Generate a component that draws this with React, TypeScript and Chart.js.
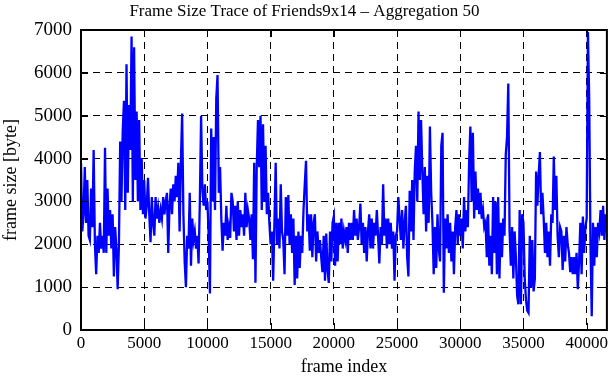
import React, { useEffect, useRef } from "react";
import { Chart, registerables } from "chart.js";

Chart.register(...registerables);

const TITLE = "Frame Size Trace of Friends9x14 \u2013 Aggregation 50";
const X_TITLE = "frame index";
const Y_TITLE = "frame size [byte]";
const FRAME_STEP = 100;
const X_MAX = 41600;
const Y_MAX = 7000;
const X_TICKS = [0, 5000, 10000, 15000, 20000, 25000, 30000, 35000, 40000];
const Y_TICKS = [0, 1000, 2000, 3000, 4000, 5000, 6000, 7000];

// aggregated frame sizes (bytes), one value every 100 frames
const frameSize: number[] = [
  3900, 2300, 2700, 3800, 2500, 3500, 2200, 2100, 3300, 2400,
  4200, 2000, 1300, 2200, 1800, 2500, 1900, 2200, 1800, 4250,
  1800, 3300, 2200, 2800, 1900, 2700, 1250, 2400, 1900, 950,
  2000, 4400, 3000, 4650, 5350, 2800, 6200, 3200, 5250, 4200,
  6850, 3000, 6600, 3500, 5100, 3000, 4900, 2800, 4000, 2700,
  3500, 2600, 2900, 3550, 2700, 2050, 3100, 2500, 2200, 3100,
  2600, 2850, 2500, 2800, 2600, 3100, 2700, 3000, 3200, 1800,
  2900, 3300, 2700, 3400, 3000, 3600, 3100, 3900, 2300, 3900,
  5050, 2700, 1600, 1000, 2200, 1900, 3200, 1500, 2600, 2100,
  2300, 1900, 2200, 1550, 3000, 5000, 3300, 2900, 3400, 2800,
  3000, 2200, 850, 4700, 3000, 4500, 2800, 5400, 5950, 3200,
  3800, 2600, 1850, 2500, 2200, 2900, 2100, 2400, 2150, 3200,
  3000, 2300, 2900, 2100, 3000, 2200, 2800, 2400, 2700, 2200,
  3200, 2400, 2800, 2600, 2100, 2700, 1650, 3900, 1100, 3800,
  4900, 3800, 5000, 2800, 4800, 3000, 4300, 2700, 3200, 2500,
  2000, 2300, 1150, 2500, 3900, 2000, 2600, 1900, 3400, 2300,
  2100, 1300, 3100, 2200, 3150, 2000, 2700, 1800, 2600, 1050,
  2200, 1200, 2300, 1450, 2200, 1800, 2800, 3400, 3950, 2300,
  2700, 1850, 2700, 1700, 2500, 2700, 1600, 2300, 1800, 2100,
  1700, 1350, 2200, 1150, 2250, 1400, 1100, 2300, 1600, 2500,
  2650, 1500, 2500, 1600, 2500, 2000, 2600, 1900, 2300, 2100,
  2400, 1800, 2500, 2100, 2500, 2100, 2800, 2200, 2600, 2100,
  2400, 2950, 2000, 2500, 1800, 2400, 1600, 2300, 2700, 1900,
  2600, 1900, 2500, 2200, 2800, 2200, 1550, 2400, 2000, 3400,
  2200, 2600, 1900, 2600, 2000, 2500, 1900, 2300, 1150, 2200,
  2300, 3100, 2600, 2100, 2800, 1900, 2500, 2900, 1700, 1250,
  3250, 2300, 3500, 2100, 3700, 4300, 3000, 5100, 3500, 4900,
  3700, 2700, 3800, 2300, 3600, 2500, 4750, 3200, 2500, 1300,
  2400, 1450, 2700, 1900, 1600, 4300, 4600, 870, 2600, 1900,
  2700, 1800, 2500, 1600, 2300, 1300, 2400, 2800, 2000, 2700,
  2200, 2600, 1900, 3100, 2300, 2800, 2400, 3900, 4750, 3000,
  4600, 2600, 3700, 2800, 3300, 2700, 3200, 2600, 2800, 2400,
  2500, 1700, 2700, 1500, 2200, 1300, 3100, 1800, 3000, 1300,
  3100, 1200, 2500, 1700, 2600, 2200, 4100, 4500, 5750, 2300,
  1500, 2400, 1200, 2300, 1700, 800, 600, 2800, 600, 2700,
  2500, 1200, 700, 450, 400, 2200, 1000, 2100, 900, 1200,
  3700, 2900, 3600, 4150, 2700, 3200, 2600, 1800, 2500, 1700,
  2300, 1500, 2700, 2500, 4050, 2800, 3600, 2200, 1700, 2400,
  2300, 1400, 2200, 1600, 2400, 2000, 1800, 1350, 1700, 1300,
  1700, 1300, 1800, 950, 1600, 2500, 1300, 2650, 1800, 2400,
  2600, 6950, 5400, 2000, 320, 2500, 1500, 2400, 1700, 2500,
  2300, 2800, 2200, 2900, 2100, 2700,
];

const FONT = "'Liberation Serif', 'Times New Roman', serif";

const frameBox = {
  id: "frameBox",
  afterDraw(chart: any) {
    const { ctx, chartArea, scales } = chart;
    const { left, right, top, bottom } = chartArea;
    ctx.save();
    ctx.strokeStyle = "#000";
    ctx.lineWidth = 1;
    ctx.setLineDash([]);
    ctx.beginPath();
    X_TICKS.forEach((v) => {
      const px = Math.round(scales.x.getPixelForValue(v)) + 0.5;
      ctx.moveTo(px, bottom);
      ctx.lineTo(px, bottom - 7);
      ctx.moveTo(px, top);
      ctx.lineTo(px, top + 7);
    });
    Y_TICKS.forEach((v) => {
      const py = Math.round(scales.y.getPixelForValue(v)) + 0.5;
      ctx.moveTo(left, py);
      ctx.lineTo(left + 7, py);
      ctx.moveTo(right, py);
      ctx.lineTo(right - 7, py);
    });
    ctx.stroke();
    ctx.lineWidth = 2;
    ctx.strokeRect(left, top, right - left, bottom - top);
    ctx.restore();
  },
};

export default function App() {
  const ref = useRef<HTMLCanvasElement | null>(null);
  useEffect(() => {
    document.body.style.margin = "0";
    const canvas = ref.current;
    if (!canvas) return;
    const points = frameSize.map((v, i) => ({ x: i * FRAME_STEP, y: v }));
    const chart = new Chart(canvas, {
      type: "line",
      data: {
        datasets: [
          {
            data: points,
            borderColor: "#0000ff",
            borderWidth: 2.3,
            pointRadius: 0,
            tension: 0,
            fill: false,
          },
        ],
      },
      options: {
        animation: false,
        responsive: false,
        maintainAspectRatio: false,
        layout: { padding: { left: 0, right: 2, top: 0, bottom: 0 } },
        plugins: {
          legend: { display: false },
          tooltip: { enabled: false },
          title: {
            display: true,
            text: TITLE,
            color: "#000",
            font: { family: FONT, size: 17, weight: "normal", lineHeight: 1.2 },
            padding: { top: 1.6, bottom: 8 },
          },
        },
        scales: {
          x: {
            type: "linear",
            min: 0,
            max: X_MAX,
            afterFit: (s: any) => {
              s.height = 50;
            },
            afterBuildTicks: (s: any) => {
              s.ticks = X_TICKS.map((v) => ({ value: v }));
            },
            ticks: {
              autoSkip: false,
              maxRotation: 0,
              color: "#000",
              padding: 3,
              font: { family: FONT, size: 17 },
              callback: (v: any) => String(v),
            },
            grid: { color: "#000", lineWidth: 1, drawTicks: false },
            border: { display: false, dash: [7, 5] },
            title: {
              display: true,
              text: X_TITLE,
              color: "#000",
              font: { family: FONT, size: 18 },
              padding: { top: 0, bottom: 2 },
            },
          },
          y: {
            type: "linear",
            min: 0,
            max: Y_MAX,
            afterFit: (s: any) => {
              s.width = 81;
            },
            afterBuildTicks: (s: any) => {
              s.ticks = Y_TICKS.map((v) => ({ value: v }));
            },
            ticks: {
              autoSkip: false,
              color: "#000",
              padding: 9,
              font: { family: FONT, size: 19 },
              callback: (v: any) => String(v),
            },
            grid: { color: "#000", lineWidth: 1, drawTicks: false },
            border: { display: false, dash: [7, 5] },
            title: {
              display: true,
              text: Y_TITLE,
              color: "#000",
              font: { family: FONT, size: 18 },
              padding: { top: 0, bottom: 0 },
            },
          },
        },
      },
      plugins: [frameBox],
    } as any);
    return () => chart.destroy();
  }, []);
  return (
    <div style={{ position: "fixed", left: 0, top: 0, width: 611, height: 380, background: "#fff" }}>
      <canvas ref={ref} width={611} height={380} style={{ display: "block", width: 611, height: 380 }} />
    </div>
  );
}
